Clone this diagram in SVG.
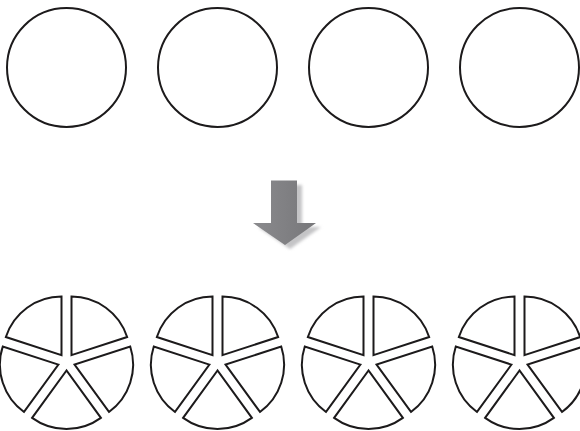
<svg xmlns="http://www.w3.org/2000/svg" xmlns:xlink="http://www.w3.org/1999/xlink" width="580" height="431" viewBox="0 0 580 431">
<style>
.ln{fill:#fff;stroke:#1c1a1b;stroke-width:2;stroke-linejoin:miter}
</style>
<defs>
<filter id="blur" x="-20%" y="-20%" width="140%" height="140%"><feGaussianBlur stdDeviation="1.6"/></filter>
<linearGradient id="ag" x1="0" y1="0" x2="1" y2="0">
<stop offset="0" stop-color="#8a8a8d"/>
<stop offset="1" stop-color="#77777a"/>
</linearGradient>
<g id="pie">
<path class="ln" d="M5,-6.88 L60.64,-24.96 A58.5,58.5 0 0 0 5,-65.38 Z"/>
<path class="ln" d="M-5,-6.88 L-5,-65.38 A58.5,58.5 0 0 0 -60.64,-24.96 Z"/>
<path class="ln" d="M-8.08,2.63 L-63.72,-15.45 A58.5,58.5 0 0 0 -42.47,49.96 Z"/>
<path class="ln" d="M0,8.5 L-34.39,55.83 A58.5,58.5 0 0 0 34.39,55.83 Z"/>
<path class="ln" d="M8.08,2.63 L42.47,49.96 A58.5,58.5 0 0 0 63.72,-15.45 Z"/>
</g>
</defs>
<rect width="580" height="431" fill="#fff"/>
<g id="circle1"><circle class="ln" cx="66.5" cy="67.5" r="59.5"/></g>
<g id="circle2"><circle class="ln" cx="217.5" cy="67.5" r="59.5"/></g>
<g id="circle3"><circle class="ln" cx="368.5" cy="67.5" r="59.5"/></g>
<g id="circle4"><circle class="ln" cx="519.5" cy="67.5" r="59.5"/></g>
<g id="connectors">
<polygon points="276,185 302,185 302,227 321,227 290,249 258,227 276,227" fill="#c4c4c6" filter="url(#blur)"/>
<polygon points="271,180.5 297,180.5 297,223 316,223 285,245 253,223 271,223" fill="url(#ag)"/>
</g>
<g id="pie1"><use xlink:href="#pie" transform="translate(66.5,362)"/></g>
<g id="pie2"><use xlink:href="#pie" transform="translate(217.5,362)"/></g>
<g id="pie3"><use xlink:href="#pie" transform="translate(368.5,362)"/></g>
<g id="pie4"><use xlink:href="#pie" transform="translate(519.5,362)"/></g>
</svg>
